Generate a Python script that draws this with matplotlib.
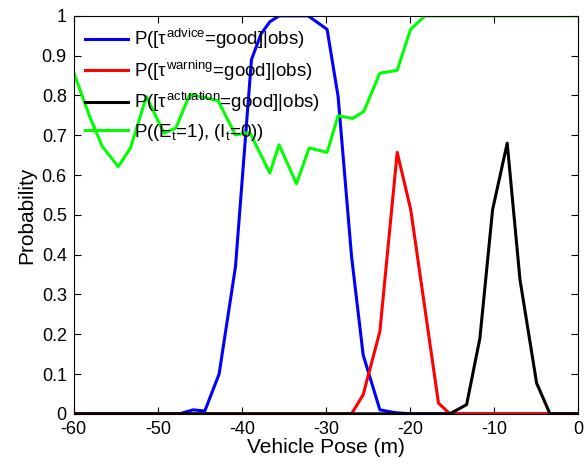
import matplotlib
matplotlib.use("Agg")
import matplotlib.pyplot as plt
from matplotlib.ticker import FormatStrFormatter

plt.rcParams['font.family'] = ['Liberation Sans', 'DejaVu Sans']
plt.rcParams['mathtext.fontset'] = 'custom'
plt.rcParams['mathtext.rm'] = 'Liberation Sans'
plt.rcParams['mathtext.it'] = 'Liberation Sans'
plt.rcParams['mathtext.bf'] = 'Liberation Sans:bold'

# advice
advice_x = [-60, -47.4, -45.8, -44.4, -42.7, -40.75, -38.85, -37.7, -36.67, -35.56,
            -32.1, -29.85, -28.54, -26.94, -25.56, -23.57, -21.8, -20.0, 0]
advice_y = [0, 0, 0.01, 0.007, 0.10, 0.37, 0.89, 0.955, 0.985, 1.0,
            1.0, 0.966, 0.797, 0.395, 0.148, 0.01, 0.003, 0, 0]

# warning
warning_x = [-60, -26.94, -25.56, -23.57, -21.51, -19.9, -16.6, -15.24, 0]
warning_y = [0, 0, 0.048, 0.207, 0.657, 0.513, 0.027, 0, 0]

# actuation
actuation_x = [-60, -15.24, -13.25, -11.67, -10.16, -8.42, -6.9, -4.92, -3.33, 0]
actuation_y = [0, 0, 0.023, 0.19, 0.513, 0.68, 0.337, 0.077, 0, 0]

# P((E_t=1),(I_t=0))
env_x = [-60, -58.1, -56.6, -54.7, -53.25, -51.35, -49.25, -47.85, -46.2, -44.5,
         -42.82, -40.77, -39.05, -36.67, -35.56, -33.49, -31.99, -29.85, -28.54,
         -26.82, -25.48, -23.57, -21.51, -19.92, -18.2, 0]
env_y = [0.858, 0.747, 0.672, 0.621, 0.668, 0.797, 0.705, 0.718, 0.802, 0.795,
         0.787, 0.701, 0.707, 0.605, 0.676, 0.578, 0.668, 0.657, 0.749,
         0.742, 0.760, 0.856, 0.863, 0.966, 1.0, 1.0]

labels = [r'P([$\tau^{\mathrm{advice}}$=good]|obs)',
          r'P([$\tau^{\mathrm{warning}}$=good]|obs)',
          r'P([$\tau^{\mathrm{actuation}}$=good]|obs)',
          r'P(($E_t$=1), ($I_t$=0))']

fig = plt.figure(figsize=(5.85, 4.66), dpi=100)
ax = fig.add_axes([0.126, 0.112, 0.862, 0.854])

lw = 2.2
ax.plot(advice_x, advice_y, color='#0000ff', lw=lw, label=labels[0])
ax.plot(warning_x, warning_y, color='#ff0000', lw=lw, label=labels[1])
ax.plot(actuation_x, actuation_y, color='#000000', lw=lw, label=labels[2])
ax.plot(env_x, env_y, color='#00ff00', lw=lw, label=labels[3])

ax.set_xlim(-60, 0)
ax.set_ylim(0, 1)
ax.set_xticks(range(-60, 1, 10))
ax.set_yticks([i / 10 for i in range(11)])
ax.yaxis.set_major_formatter(FormatStrFormatter('%g'))
ax.xaxis.set_major_formatter(FormatStrFormatter('%g'))
ax.tick_params(direction='in', top=True, right=True, length=5, width=0.8,
               labelsize=13)
ax.tick_params(axis='x', pad=5)
ax.tick_params(axis='y', pad=5)

ax.set_xlabel('Vehicle Pose (m)', fontsize=15, labelpad=0)
ax.set_ylabel('Probability', fontsize=15, labelpad=4)

ax.legend(loc='upper left', frameon=False, fontsize=13.5, handlelength=2.3,
          labelspacing=0.4, borderaxespad=0.2, handletextpad=0.3)

fig.savefig('out.png', dpi=100)
